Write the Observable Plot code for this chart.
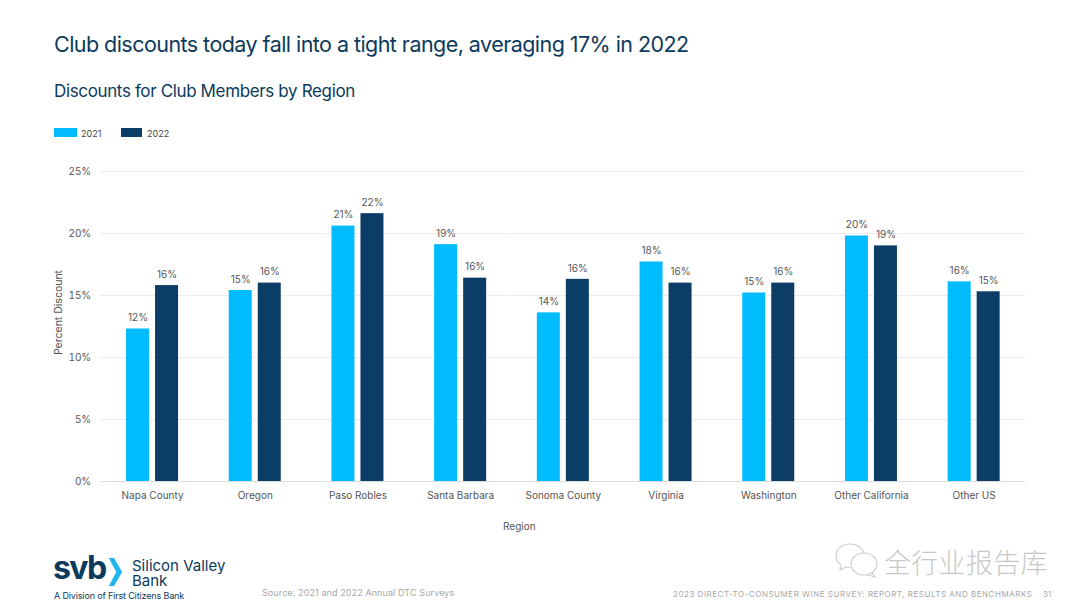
<!DOCTYPE html>
<html><head><meta charset="utf-8">
<script src="https://cdn.jsdelivr.net/npm/d3@7"></script>
<script src="https://cdn.jsdelivr.net/npm/@observablehq/plot@0.6"></script>
<style>
html,body{margin:0;padding:0;background:#fff;}
body{width:1080px;height:608px;position:relative;overflow:hidden;font-family:Inter,"Noto Sans",sans-serif;}
.t{position:absolute;white-space:nowrap;line-height:1;}
#title{left:54px;top:34px;font-size:21.5px;color:#0c3a5c;letter-spacing:-.55px;}
#sub{left:54px;top:83px;font-size:17px;color:#0c3a5c;letter-spacing:-.36px;}
.sw{position:absolute;top:128px;height:9px;}
.lg{top:129px;font-size:9px;color:#444;}
#chart{position:absolute;left:0;top:160px;}
#src{left:262px;top:588px;font-size:9px;color:#a8a8a8;letter-spacing:.1px;}
#foot{left:673px;top:590px;font-size:8px;color:#a8a8a8;letter-spacing:.52px;}
#pg{left:1043px;top:590px;font-size:8px;color:#a8a8a8;}
#svb{left:53px;top:552px;font-size:32px;font-weight:700;color:#0c3a5c;letter-spacing:-1.6px;}
#chev{position:absolute;left:108px;top:558px;}
#sv{left:132px;top:558px;font-size:15px;line-height:15px;color:#0c3a5c;letter-spacing:0;}
#div{left:54px;top:591px;font-size:9px;color:#0c3a5c;letter-spacing:-.15px;}
#wm{left:884px;top:548px;font-family:"Noto Sans CJK SC";font-size:27px;font-weight:300;color:#c8c8c8;letter-spacing:.3px;}
#wechat{position:absolute;left:834px;top:543px;}
</style></head><body>
<div class="t" id="title">Club discounts today fall into a tight range, averaging 17% in 2022</div>
<div class="t" id="sub">Discounts for Club Members by Region</div>
<div class="sw" style="left:54px;width:23px;background:#00bcff"></div><div class="t lg" style="left:81px">2021</div>
<div class="sw" style="left:121px;width:21px;background:#0c3d66"></div><div class="t lg" style="left:147px">2022</div>
<div id="chart"></div>
<div class="t" id="svb">svb</div>
<svg id="chev" width="15" height="28" viewBox="0 0 20 30" preserveAspectRatio="none"><path d="M1 0h7l11 15-11 15H1l10-15z" fill="#1fb6f2"/></svg>
<div class="t" id="sv">Silicon Valley<br>Bank</div>
<div class="t" id="div">A Division of First Citizens Bank</div>
<div class="t" id="src">Source: 2021 and 2022 Annual DTC Surveys</div>
<div class="t" id="foot">2023 DIRECT-TO-CONSUMER WINE SURVEY: REPORT, RESULTS AND BENCHMARKS</div>
<div class="t" id="pg">31</div>
<svg id="wechat" width="46" height="36" viewBox="0 0 46 36" fill="none" stroke="#cfcfcf" stroke-width="1.2"><path d="M16 1C8 1 2 6 2 13c0 4 2 7 5 9l-1 5 6-3c2 .5 3 .5 4 .5"/><path d="M16 1c7 0 12 4 14 9"/><ellipse cx="30" cy="21" rx="13" ry="11"/><path d="M38 30l3 4-7-2"/></svg>
<div class="t" id="wm">全行业报告库</div>
<script>
const regions = ["Napa County","Oregon","Paso Robles","Santa Barbara","Sonoma County","Virginia","Washington","Other California","Other US"];
const years = ["2021","2022"];
const values2021 = [12.3,15.4,20.6,19.1,13.6,17.7,15.2,19.8,16.1];
const values2022 = [15.8,16.0,21.6,16.4,16.3,16.0,16.0,19.0,15.3];
const yTicks = [0,5,10,15,20,25];
const colors = ["#00bcff","#0c3d66"];
const rows = regions.flatMap((r,i)=>[
  {region:r,year:years[0],value:values2021[i]},
  {region:r,year:years[1],value:values2022[i]}
]);
const font = "Inter, 'Noto Sans', sans-serif";
const plot = Plot.plot({
  width:1080,height:380,
  marginLeft:100.7,marginRight:55,marginTop:11,marginBottom:59,
  style:{fontFamily:font,fontSize:"10px",color:"#555",background:"transparent"},
  fx:{domain:regions,padding:0,round:false,label:null},
  x:{domain:years,paddingInner:0.207,paddingOuter:0.874,round:false,axis:null,label:null},
  y:{domain:[0,25],label:null},
  color:{domain:years,range:colors},
  marks:[
    Plot.gridY(yTicks,{stroke:"#ececec",strokeOpacity:1}),
    Plot.ruleY([0],{stroke:"#dcdcdc"}),
    Plot.barY(rows,{fx:"region",x:"year",y:"value",fill:"year"}),
    Plot.text(rows,{fx:"region",x:"year",y:"value",text:d=>Math.round(d.value)+"%",dy:-11,fill:"#555",fontSize:10}),
    Plot.axisY(yTicks,{tickSize:0,tickPadding:10,tickFormat:d=>d+"%",label:null,fill:"#555"}),
    Plot.text(["Percent Discount"],{fx:()=>regions[0],text:d=>d,frameAnchor:"left",textAnchor:"middle",rotate:-90,dx:-43,dy:-14,fill:"#555",fontSize:10.5}),
    Plot.axisFx({anchor:"bottom",tickSize:0,tickPadding:10,label:null,fill:"#555"}),
    Plot.text(["Region"],{fx:()=>regions[4],text:d=>d,frameAnchor:"bottom",lineAnchor:"middle",textAnchor:"middle",dx:-44,dy:45,fill:"#555",fontSize:10})
  ]
});
document.getElementById("chart").appendChild(plot);
</script>
</body></html>
